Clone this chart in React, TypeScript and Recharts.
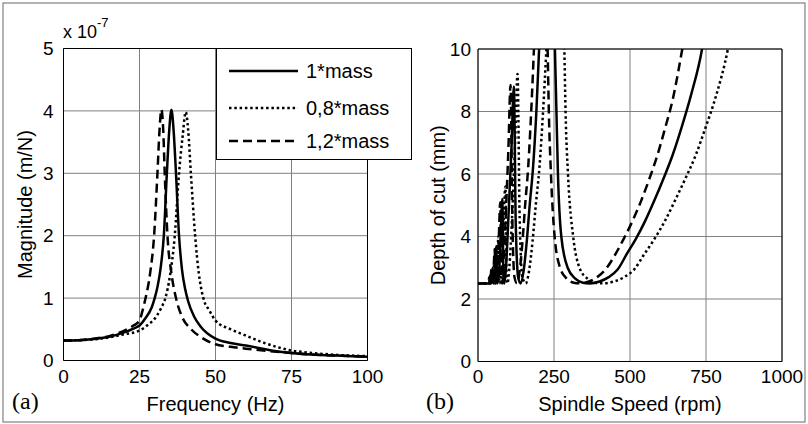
import React from "react"
import {
  LineChart,
  Line,
  XAxis,
  YAxis,
  CartesianGrid,
  Legend,
  ReferenceArea,
  Label,
} from "recharts"

// (a) frequency response, magnitude in units of 1e-7 m/N
const freqSolid = [0, 5, 10, 15, 20, 23, 25, 27, 29, 30, 31, 32, 33, 34, 34.8, 35.5, 36.2, 37, 38, 39, 40, 41, 43, 45, 50, 55, 60, 70, 75, 80, 90, 100]
const magSolid = [0.32, 0.325, 0.345, 0.38, 0.45, 0.51, 0.56, 0.68, 0.85, 1.0, 1.2, 1.5, 2.0, 3.0, 3.7, 4.02, 3.7, 3.0, 2.0, 1.45, 1.15, 0.95, 0.7, 0.55, 0.35, 0.28, 0.24, 0.15, 0.12, 0.1, 0.08, 0.06]

const freqLight = [0, 5, 10, 15, 20, 25, 28, 30, 32, 33.5, 35, 36.6, 38, 39.2, 40.2, 41, 41.9, 43.3, 44.5, 46, 48, 50, 55, 60, 65, 70, 75, 80, 90, 100]
const magLight = [0.32, 0.325, 0.34, 0.37, 0.42, 0.48, 0.58, 0.67, 0.83, 1.0, 1.35, 2.0, 3.0, 3.6, 3.98, 3.7, 3.0, 2.0, 1.4, 1.0, 0.8, 0.64, 0.5, 0.4, 0.3, 0.22, 0.16, 0.13, 0.09, 0.07]

const freqHeavy = [0, 5, 10, 15, 20, 23, 25, 26, 27, 28.5, 29.8, 30.9, 31.6, 32.2, 32.8, 33.3, 34.2, 35.5, 37, 39, 42, 45, 50, 55, 60, 70, 75, 80, 90, 100]
const magHeavy = [0.32, 0.325, 0.35, 0.39, 0.48, 0.56, 0.64, 0.8, 1.0, 1.4, 2.0, 3.0, 3.7, 4.02, 3.7, 3.0, 2.0, 1.4, 1.0, 0.7, 0.5, 0.38, 0.26, 0.22, 0.19, 0.14, 0.12, 0.1, 0.08, 0.06]

// (b) stability lobes, depth of cut (mm) vs spindle speed (rpm)
const rpmSolid = [0, 33, 37, 40, 42, 45, 48, 50, 54, 57, 60, 63, 68, 74, 80, 84, 87, 92, 100, 110, 118, 124, 132, 140, 150, 160, 170, 181, 192, 201, 210, 245, 253, 258, 263, 274, 295, 320, 345, 367, 400, 430, 460, 490, 518, 550, 580, 610, 640, 670, 700, 737, 760]
const docSolid = [2.5, 2.5, 2.5, 2.75, 2.5, 2.55, 3.0, 2.5, 2.6, 3.1, 3.7, 2.5, 2.7, 3.8, 5.2, 2.6, 2.5, 3.0, 4.6, 6.8, 8.8, 4.5, 2.7, 2.5, 2.9, 3.8, 5.0, 6.2, 8.0, 10, 12, 12, 10, 8, 6, 4, 3, 2.65, 2.52, 2.5, 2.56, 2.7, 2.95, 3.45, 3.9, 4.5, 5.15, 5.85, 6.6, 7.5, 8.5, 10, 11.5]

const rpmLight = [0, 36, 41, 45, 47, 50, 54, 56, 60, 64, 67, 70, 76, 83, 90, 94, 97, 103, 112, 122, 130, 137, 146, 157, 168, 179, 190, 202, 214, 225, 235, 275, 284, 288, 296, 313, 334, 360, 385, 412, 447, 481, 514, 548, 579, 615, 648, 682, 716, 749, 783, 822, 840]
const docLight = [2.5, 2.5, 2.5, 2.8, 2.5, 2.55, 3.2, 2.5, 2.6, 3.3, 4.0, 2.5, 2.7, 4.2, 5.6, 2.6, 2.5, 3.0, 4.6, 7.0, 9.2, 4.6, 2.7, 2.5, 2.9, 3.8, 5.0, 6.2, 8.0, 10, 12, 12, 10, 8, 6, 4, 3, 2.65, 2.52, 2.5, 2.56, 2.7, 2.95, 3.45, 3.9, 4.5, 5.15, 5.85, 6.6, 7.5, 8.5, 10, 11]

const rpmHeavy = [0, 30, 34, 37, 39, 41, 44, 46, 49, 52, 55, 57, 62, 68, 73, 77, 80, 84, 91, 100, 107, 113, 120, 128, 137, 146, 155, 165, 175, 184, 192, 222, 229, 233, 240, 252, 270, 292, 315, 338, 365, 392, 420, 450, 478, 506, 535, 562, 590, 615, 642, 672, 690]
const docHeavy = [2.5, 2.5, 2.5, 2.7, 2.5, 2.55, 2.95, 2.5, 2.6, 3.1, 3.6, 2.5, 2.7, 3.8, 5.1, 2.6, 2.5, 3.0, 4.6, 6.8, 8.85, 4.5, 2.7, 2.5, 2.9, 3.8, 5.0, 6.2, 8.0, 10, 12, 12, 10, 8, 6, 4, 3, 2.65, 2.52, 2.5, 2.56, 2.7, 2.95, 3.4, 3.9, 4.45, 5.1, 5.8, 6.6, 7.45, 8.45, 10, 11]

const freqTicks = [0, 25, 50, 75, 100]
const magTicks = [0, 1, 2, 3, 4, 5]
const rpmTicks = [0, 250, 500, 750, 1000]
const docTicks = [0, 2, 4, 6, 8, 10]

const seriesNames = ["1*mass", "0,8*mass", "1,2*mass"]
const seriesDash = ["", "2.5 2.8", "9 5"]

const zip = (xs: number[], ys: number[]) => xs.map((x, i) => ({ x, y: ys[i] }))

const FONT = "'Liberation Sans', Arial, Helvetica, sans-serif"
const GRID = "#808080"
const tickStyle = { fill: "#000", fontSize: 19, fontFamily: FONT }
const labelStyle = { fill: "#000", fontSize: 20, fontFamily: FONT, textAnchor: "middle" as const }

function LegendBox() {
  const rows = [22, 59, 92]
  return (
    <div style={{ width: 196, height: 112, border: "1px solid #000", background: "#fff", boxSizing: "border-box" }}>
      <svg width={194} height={110}>
        {seriesNames.map((name, i) => (
          <g key={name}>
            <line x1={12} x2={81} y1={rows[i]} y2={rows[i]} stroke="#000" strokeWidth={2.5} strokeDasharray={seriesDash[i] || undefined} />
            <text x={89} y={rows[i] + 7} fontSize={20} fontFamily={FONT} fill="#000">{name}</text>
          </g>
        ))}
      </svg>
    </div>
  )
}

function FrequencyChart() {
  const lines = [zip(freqSolid, magSolid), zip(freqLight, magLight), zip(freqHeavy, magHeavy)]
  return (
    <LineChart width={420} height={424} margin={{ top: 48.5, right: 52.5, bottom: 0, left: 0 }}>
      <CartesianGrid stroke={GRID} strokeWidth={1} />
      <XAxis type="number" dataKey="x" domain={[0, 100]} ticks={freqTicks} height={63.5} axisLine={false} tickLine={false} tickSize={0} tickMargin={9} tick={tickStyle} allowDataOverflow>
        <Label value="Frequency (Hz)" position="insideBottom" offset={13} style={labelStyle} />
      </XAxis>
      <YAxis type="number" dataKey="y" domain={[0, 5]} ticks={magTicks} width={63.5} axisLine={false} tickLine={false} tickSize={0} tickMargin={10} tick={tickStyle} allowDataOverflow>
        <Label value="Magnitude (m/N)" angle={-90} position="insideLeft" offset={25} style={labelStyle} />
      </YAxis>
      <ReferenceArea x1={0} x2={100} y1={0} y2={5} fill="none" stroke="#000" strokeWidth={1} />
      {lines.map((d, i) => (
        <Line key={seriesNames[i]} data={d} dataKey="y" type="monotone" stroke="#000" strokeWidth={2.5} strokeDasharray={seriesDash[i] || undefined} dot={false} isAnimationActive={false} />
      ))}
      <Legend layout="horizontal" verticalAlign="middle" align="center" wrapperStyle={{ left: 216, top: 48, width: 196 }} content={() => <LegendBox />} />
    </LineChart>
  )
}

function LobeChart() {
  const lines = [zip(rpmSolid, docSolid), zip(rpmLight, docLight), zip(rpmHeavy, docHeavy)]
  return (
    <LineChart width={398} height={424} margin={{ top: 49, right: 26, bottom: 0, left: 0 }}>
      <CartesianGrid stroke={GRID} strokeWidth={1} />
      <XAxis type="number" dataKey="x" domain={[0, 1000]} ticks={rpmTicks} height={62.5} axisLine={false} tickLine={false} tickSize={0} tickMargin={8} tick={tickStyle} allowDataOverflow>
        <Label value="Spindle Speed (rpm)" position="insideBottom" offset={13} style={labelStyle} />
      </XAxis>
      <YAxis type="number" dataKey="y" domain={[0, 10]} ticks={docTicks} width={68} axisLine={false} tickLine={false} tickSize={0} tickMargin={7} tick={tickStyle} allowDataOverflow>
        <Label value="Depth of cut (mm)" angle={-90} position="insideLeft" offset={28} style={labelStyle} />
      </YAxis>
      <ReferenceArea x1={0} x2={1000} y1={0} y2={10} fill="none" stroke="#000" strokeWidth={1} />
      {lines.map((d, i) => (
        <Line key={seriesNames[i]} data={d} dataKey="y" type="monotone" stroke="#000" strokeWidth={2.5} strokeDasharray={seriesDash[i] || undefined} dot={false} isAnimationActive={false} />
      ))}
    </LineChart>
  )
}

export default function App() {
  return (
    <div style={{ position: "absolute", left: 0, top: 0, width: 808, height: 424, background: "#fff", overflow: "hidden" }}>
      <div style={{ position: "absolute", left: 0, top: 0 }}>
        <FrequencyChart />
      </div>
      <div style={{ position: "absolute", left: 410, top: 0 }}>
        <LobeChart />
      </div>
      <svg width={808} height={424} style={{ position: "absolute", left: 0, top: 0, pointerEvents: "none" }}>
        <rect x={3} y={3} width={802} height={419} fill="none" stroke="#8a8a8a" strokeWidth={1.3} />
        <text x={63} y={38} fontSize={18} fontFamily={FONT} fill="#000">
          x 10<tspan dy={-11} fontSize={13}>-7</tspan>
        </text>
        <text x={12} y={409} fontSize={24} fontFamily="'Liberation Serif', 'Times New Roman', serif" fill="#000">(a)</text>
        <text x={426} y={409} fontSize={24} fontFamily="'Liberation Serif', 'Times New Roman', serif" fill="#000">(b)</text>
      </svg>
    </div>
  )
}
